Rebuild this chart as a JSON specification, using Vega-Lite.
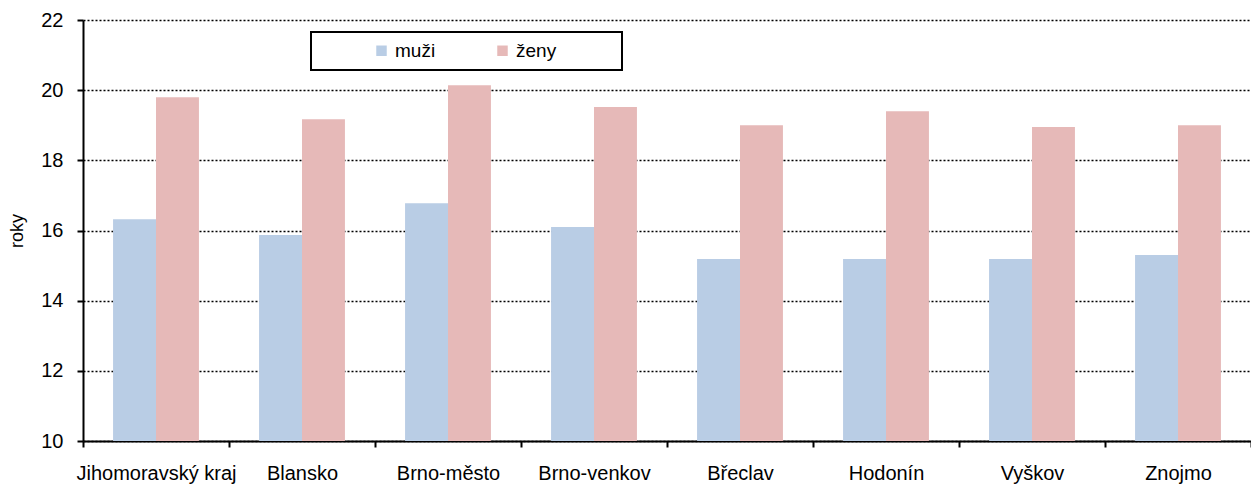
{
  "$schema": "https://vega.github.io/schema/vega-lite/v6.json",
  "width": 1168,
  "height": 421,
  "autosize": {"type": "none"},
  "padding": {"left": 83, "top": 20, "right": 0, "bottom": 46},
  "background": "white",
  "config": {
    "view": {"stroke": null},
    "font": "Liberation Sans",
    "axis": {"labelFont": "Liberation Sans", "titleFont": "Liberation Sans", "labelColor": "black", "titleColor": "black"}
  },
  "data": {
    "values": [
      {"okres": "Jihomoravský kraj", "pohlavi": "muži", "roky": 16.32},
      {"okres": "Jihomoravský kraj", "pohlavi": "ženy", "roky": 19.8},
      {"okres": "Blansko", "pohlavi": "muži", "roky": 15.87},
      {"okres": "Blansko", "pohlavi": "ženy", "roky": 19.17},
      {"okres": "Brno-město", "pohlavi": "muži", "roky": 16.78},
      {"okres": "Brno-město", "pohlavi": "ženy", "roky": 20.14},
      {"okres": "Brno-venkov", "pohlavi": "muži", "roky": 16.1},
      {"okres": "Brno-venkov", "pohlavi": "ženy", "roky": 19.52},
      {"okres": "Břeclav", "pohlavi": "muži", "roky": 15.19},
      {"okres": "Břeclav", "pohlavi": "ženy", "roky": 19.0},
      {"okres": "Hodonín", "pohlavi": "muži", "roky": 15.19},
      {"okres": "Hodonín", "pohlavi": "ženy", "roky": 19.4},
      {"okres": "Vyškov", "pohlavi": "muži", "roky": 15.19},
      {"okres": "Vyškov", "pohlavi": "ženy", "roky": 18.95},
      {"okres": "Znojmo", "pohlavi": "muži", "roky": 15.3},
      {"okres": "Znojmo", "pohlavi": "ženy", "roky": 19.0}
    ]
  },
  "mark": {"type": "bar", "clip": true},
  "encoding": {
    "x": {
      "field": "okres",
      "type": "nominal",
      "sort": null,
      "scale": {"paddingInner": 0, "paddingOuter": 0},
      "axis": {
        "title": null,
        "labelAngle": 0,
        "labelFontSize": 20,
        "labelPadding": 16,
        "labelLimit": 300,
        "tickBand": "extent",
        "tickSize": 6,
        "tickWidth": 2,
        "tickColor": "black",
        "domainColor": "black",
        "domainWidth": 2,
        "grid": false
      }
    },
    "xOffset": {
      "field": "pohlavi",
      "type": "nominal",
      "scale": {"paddingInner": 0, "paddingOuter": 0.7}
    },
    "y": {
      "field": "roky",
      "type": "quantitative",
      "scale": {"domain": [10, 22], "nice": false, "zero": false},
      "axis": {
        "title": "roky",
        "titleFontSize": 18,
        "titleFontWeight": "normal",
        "titlePadding": 14,
        "values": [10, 12, 14, 16, 18, 20, 22],
        "labelFontSize": 20,
        "labelPadding": 14,
        "tickSize": 6,
        "tickWidth": 2,
        "tickColor": "black",
        "domainColor": "black",
        "domainWidth": 2,
        "grid": true,
        "gridColor": "black",
        "gridDash": [2, 2],
        "gridWidth": 1.5,
        "gridOpacity": 1
      }
    },
    "color": {
      "field": "pohlavi",
      "type": "nominal",
      "scale": {"domain": ["muži", "ženy"], "range": ["#B9CDE5", "#E6B9B8"]},
      "legend": {
        "title": null,
        "orient": "none",
        "legendX": 228,
        "legendY": 12,
        "direction": "horizontal",
        "columns": 2,
        "columnPadding": 5,
        "padding": 9,
        "symbolOffset": 52,
        "symbolType": "square",
        "symbolSize": 110,
        "symbolStrokeWidth": 0,
        "labelFontSize": 19,
        "labelFont": "Liberation Sans",
        "labelColor": "black",
        "labelOffset": 4,
        "labelLimit": 300,
        "strokeColor": "black",
        "fillColor": "white",
        "encode": {"legend": {"update": {"strokeWidth": {"value": 2}}}},
        "labelExpr": "datum.value == 'ženy' ? datum.label + '\u2800\u2800\u2800\u2800' : datum.label"
      }
    }
  }
}
